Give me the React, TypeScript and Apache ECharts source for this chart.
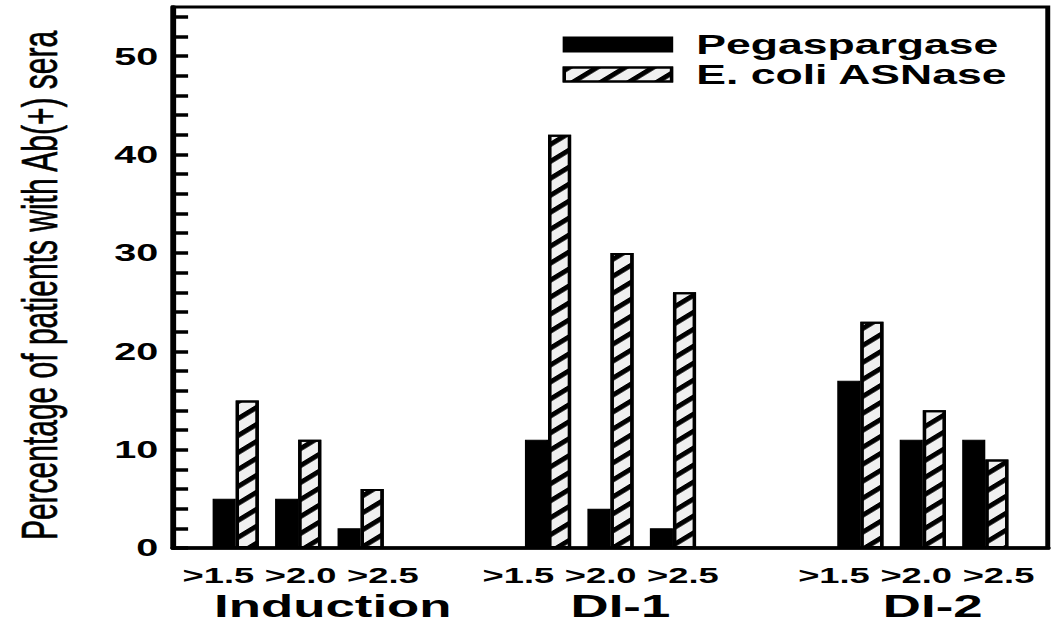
import React, { useEffect, useRef } from 'react';
import * as echarts from 'echarts';

// ---------------- data ----------------
const groups = ['Induction', 'DI-1', 'DI-2'];
const thresholds = ['>1.5', '>2.0', '>2.5'];
const seriesNames = ['Pegaspargase', 'E. coli ASNase'];
// values in order: Induction(>1.5,>2.0,>2.5), DI-1(...), DI-2(...)
const pegaspargase = [5, 5, 2, 11, 4, 2, 17, 11, 11];
const eColiASNase = [15, 11, 6, 42, 30, 26, 23, 14, 9];
const yTickLabels = [0, 10, 20, 30, 40, 50];
const yAxisTitle = 'Percentage of patients with Ab(+) sera';

// ---------------- layout ----------------
const W = 1053;
const H = 629;
const STRETCH = 1.65; // the reference figure is horizontally stretched
const INNER_W = W / STRETCH;
const FONT = "'Liberation Sans', Arial, Helvetica, sans-serif";
const GAP_SLOTS = 2;
const GRID_LEFT = 105;
const STEP = 38.38;
const thresholdShift = [-12, 0, 12];
const groupLabelShift = [1.5, -6, -4];
const groupTitleShift = [21, 6, 6];

type Slot = { key: string; group: number; t: number };
const slots: Slot[] = [];
slots.push({ key: 'pad-start', group: -1, t: -1 });
groups.forEach((g, gi) => {
  if (gi > 0) {
    for (let k = 0; k < GAP_SLOTS; k++) slots.push({ key: `gap-${gi}-${k}`, group: -1, t: -1 });
  }
  thresholds.forEach((th, ti) => slots.push({ key: `${g} ${th}`, group: gi, t: ti }));
});
slots.push({ key: 'pad-end', group: -1, t: -1 });

const slotKeys = slots.map((s) => s.key);
const valueAt = (arr: number[], s: Slot) => (s.group < 0 ? null : arr[s.group * thresholds.length + s.t]);

const shiftPadding = (d: number) => (d >= 0 ? [0, 0, 0, 2 * d] : [0, -2 * d, 0, 0]);

const thresholdRich: Record<string, any> = {};
const titleRich: Record<string, any> = {};
slots.forEach((s, i) => {
  if (s.group < 0) return;
  thresholdRich['s' + i] = {
    fontFamily: FONT,
    fontWeight: 'bold',
    fontSize: 22,
    color: '#000',
    padding: shiftPadding(thresholdShift[s.t] + groupLabelShift[s.group]),
  };
  if (s.t === 1) {
    titleRich['g' + i] = {
      fontFamily: FONT,
      fontWeight: 'bold',
      fontSize: 32,
      color: '#000',
      padding: shiftPadding(groupTitleShift[s.group]),
    };
  }
});

export default function App() {
  const ref = useRef<HTMLDivElement>(null);

  useEffect(() => {
    if (!ref.current) return;
    const chart = echarts.init(ref.current, null, { renderer: 'svg' });
    const gridWidth = STEP * (slots.length - 1);
    const option: any = {
      animation: false,
      backgroundColor: '#fff',
      textStyle: { fontFamily: FONT, color: '#000' },
      grid: {
        show: true,
        left: GRID_LEFT,
        top: 7,
        bottom: 81,
        right: INNER_W - GRID_LEFT - gridWidth,
        borderColor: '#000',
        borderWidth: 3,
        backgroundColor: 'transparent',
      },
      legend: {
        orient: 'vertical',
        left: 341,
        top: 31,
        padding: 0,
        itemWidth: 65,
        itemHeight: 14,
        itemGap: 3,
        selectedMode: false,
        textStyle: {
          fontFamily: FONT,
          fontWeight: 'bold',
          fontSize: 27,
          lineHeight: 27,
          color: '#000',
          padding: [0, 0, 0, 10],
        },
        data: seriesNames.map((n) => ({ name: n, icon: 'rect' })),
      },
      xAxis: [
        {
          type: 'category',
          data: slotKeys,
          boundaryGap: false,
          axisLine: { show: true, lineStyle: { color: '#000', width: 3.5 } },
          axisTick: { show: false },
          splitLine: { show: false },
          axisLabel: {
            interval: 0,
            margin: 16,
            formatter: (v: string, i: number) => {
              const s = slots[i];
              if (!s || s.group < 0) return '';
              return `{s${i}|${thresholds[s.t]}}`;
            },
            rich: thresholdRich,
          },
        },
        {
          type: 'category',
          data: slotKeys,
          boundaryGap: false,
          position: 'bottom',
          axisLine: { show: false },
          axisTick: { show: false },
          splitLine: { show: false },
          axisLabel: {
            interval: 0,
            margin: 42,
            formatter: (v: string, i: number) => {
              const s = slots[i];
              if (!s || s.group < 0 || s.t !== 1) return '';
              return `{g${i}|${groups[s.group]}}`;
            },
            rich: titleRich,
          },
        },
      ],
      yAxis: {
        type: 'value',
        min: 0,
        max: 55,
        interval: 2,
        name: yAxisTitle,
        nameLocation: 'middle',
        nameGap: 66,
        nameTextStyle: {
          fontFamily: FONT,
          fontSize: 30,
          color: '#000',
          padding: [0, 16, 0, 0],
          textBorderColor: '#000',
          textBorderWidth: 0.4,
        },
        axisLine: { show: true, lineStyle: { color: '#000', width: 3.5 } },
        axisTick: { show: true, inside: true, length: 9, lineStyle: { color: '#000', width: 3.5 } },
        splitLine: { show: false },
        axisLabel: {
          margin: 9,
          fontFamily: FONT,
          fontWeight: 'bold',
          fontSize: 24,
          color: '#000',
          showMaxLabel: false,
          formatter: (v: number) => (yTickLabels.includes(v) ? String(v) : ''),
        },
      },
      series: [
        {
          name: seriesNames[0],
          type: 'bar',
          xAxisIndex: 0,
          barWidth: 14,
          barGap: '0%',
          data: slots.map((s) => valueAt(pegaspargase, s)),
          itemStyle: { color: '#000', borderColor: '#000', borderWidth: 1 },
        },
        {
          name: seriesNames[1],
          type: 'bar',
          xAxisIndex: 0,
          barWidth: 14,
          barGap: '0%',
          data: slots.map((s) => valueAt(eColiASNase, s)),
          itemStyle: {
            color: '#f0f0f0',
            borderColor: '#000',
            borderWidth: 2,
            decal: {
              symbol: 'rect',
              symbolSize: 1,
              dashArrayX: [1, 0],
              dashArrayY: [4, 8],
              rotation: -Math.PI / 4,
              color: '#000',
            },
          },
        },
      ],
    };
    chart.setOption(option);
    return () => chart.dispose();
  }, []);

  return (
    <div
      style={{
        position: 'absolute',
        left: 0,
        top: 0,
        width: W,
        height: H,
        overflow: 'hidden',
        background: '#fff',
      }}
    >
      <div
        ref={ref}
        style={{
          width: INNER_W,
          height: H,
          transform: `scaleX(${STRETCH})`,
          transformOrigin: '0 0',
        }}
      />
    </div>
  );
}
